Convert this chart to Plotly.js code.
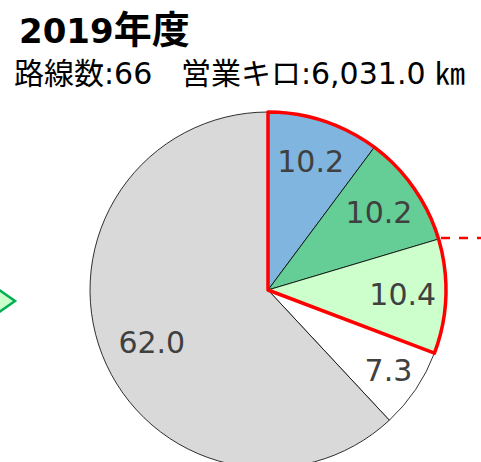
<!DOCTYPE html>
<html><head><meta charset="utf-8">
<script src="https://cdn.plot.ly/plotly-3.0.1.min.js"></script>
<style>html,body{margin:0;padding:0;overflow:hidden;background:#fff}#c{width:481px;height:480px}</style>
</head><body><div id="c"></div>
<script>
const categories = ['A', 'B', 'C', 'D', 'E'];
const values = [10.2, 10.2, 10.4, 7.3, 62.0];
const labels = ['10.2', '10.2', '10.4', '7.3', '62.0'];
const colors = ['#7FB5DE', '#64CE96', '#CCFFCC', '#FFFFFF', '#D9D9D9'];
const highlightCount = 3;
const titleYear = '2019';
const titleSuffix = '年度';
const subtitleText = '路線数:66\u00a0\u00a0\u00a0営業キロ:6,031.0 ㎞';

const W = 481, H = 480;
const px = x => x / W;
const py = y => (H - y) / H;
const dom = {x: [px(90), px(446)], y: [py(468), py(112)]};

const hiSum = values.slice(0, highlightCount).reduce((a, b) => a + b, 0);
const restSum = values.slice(highlightCount).reduce((a, b) => a + b, 0);

const font = 'DejaVu Sans, Noto Sans CJK JP, sans-serif';

// nudge the large-slice label toward its position in the reference (padding only, value unchanged)
const shownText = labels.map((t, i) => i === labels.length - 1 ? '\u00a0<br>' + t + '\u00a0\u00a0\u00a0\u00a0\u00a0\u00a0\u00a0' : t);

const traces = [
  {
    type: 'pie', labels: categories, values: values, text: shownText,
    textinfo: 'text', textposition: 'inside', insidetextorientation: 'horizontal',
    sort: false, direction: 'clockwise', rotation: 0,
    domain: dom,
    marker: {colors: colors, line: {color: 'rgba(0,0,0,0.8)', width: 1}},
    textfont: {family: font, size: 30, color: '#404040'},
    hoverinfo: 'none', showlegend: false
  },
  {
    type: 'pie', labels: ['hi', 'rest'], values: [hiSum, restSum],
    textinfo: 'none', sort: false, direction: 'clockwise', rotation: 0,
    domain: dom,
    marker: {colors: ['rgba(0,0,0,0)', 'rgba(0,0,0,0)'], line: {color: ['#FF0000', 'rgba(0,0,0,0)'], width: [3.5, 0]}},
    hoverinfo: 'none', showlegend: false
  }
];

const layout = {
  width: W, height: H,
  margin: {l: 0, r: 0, t: 0, b: 0},
  paper_bgcolor: '#fff', plot_bgcolor: '#fff',
  showlegend: false,
  annotations: [
    {text: '<b>' + titleYear + '<span style="font-size:38px">' + titleSuffix + '</span></b>', xref: 'paper', yref: 'paper', x: px(17), y: py(30), xanchor: 'left', yanchor: 'middle', showarrow: false, font: {family: font, size: 34, color: '#000'}},
    {text: subtitleText, xref: 'paper', yref: 'paper', x: px(12), y: py(73), xanchor: 'left', yanchor: 'middle', showarrow: false, font: {family: font, size: 30, color: '#000'}}
  ],
  shapes: [
    {type: 'line', xref: 'paper', yref: 'paper', x0: px(441), x1: 1, y0: py(238), y1: py(238), line: {color: '#FF0000', width: 2.5, dash: 'dash'}},
    {type: 'path', xref: 'paper', yref: 'paper', path: 'M ' + px(-8) + ' ' + py(285) + ' L ' + px(15) + ' ' + py(301) + ' L ' + px(-8) + ' ' + py(317) + ' Z', fillcolor: '#CCFFCC', line: {color: '#00B050', width: 2.5}}
  ]
};

Plotly.newPlot('c', traces, layout, {staticPlot: true});
</script>
</body></html>
